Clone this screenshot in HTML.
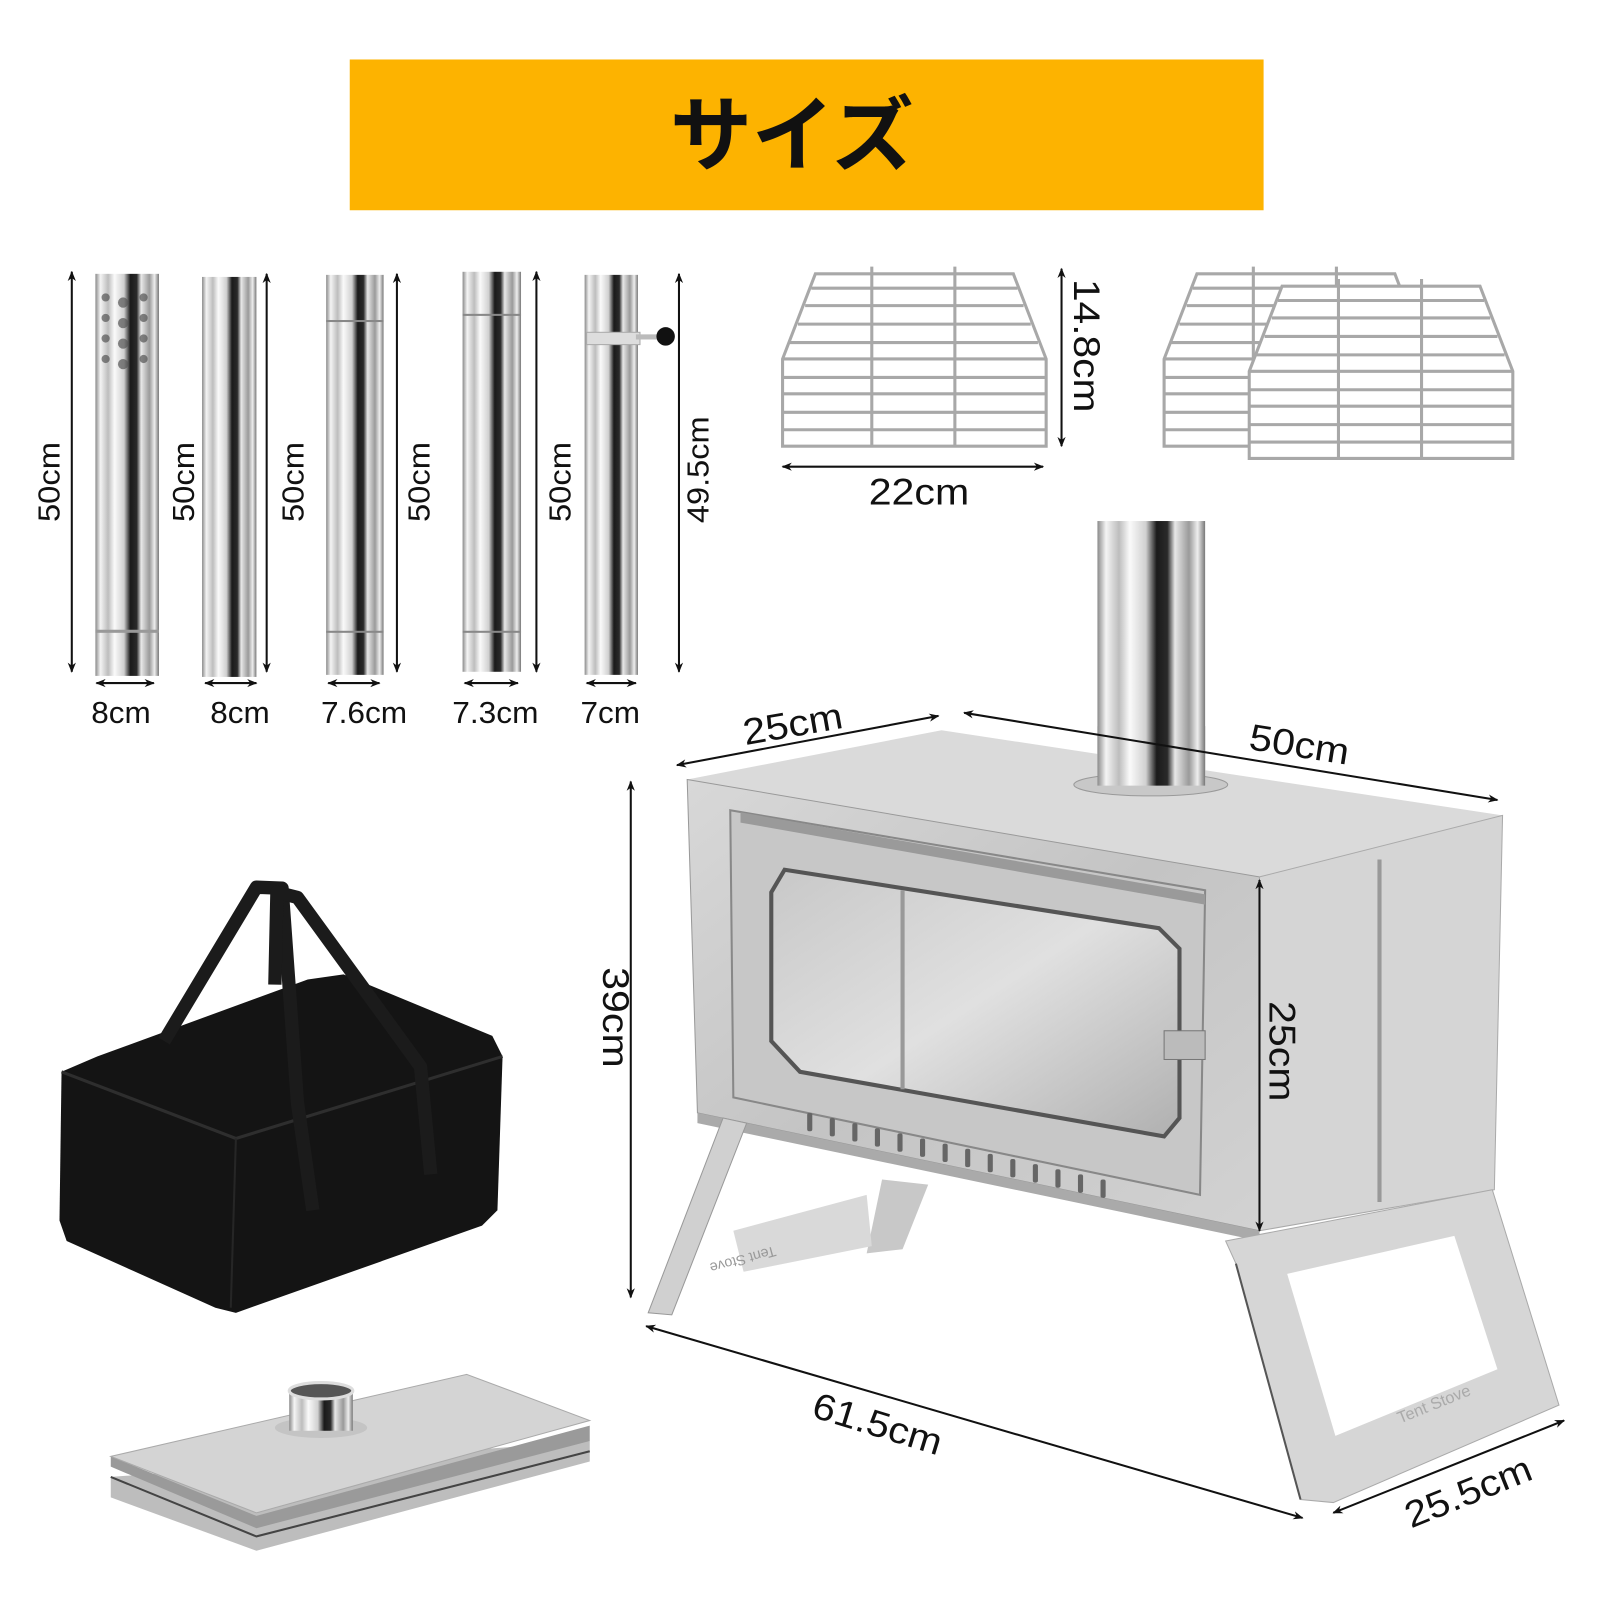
<!DOCTYPE html>
<html><head><meta charset="utf-8"><style>
html,body{margin:0;padding:0;background:#fff;}
svg{display:block;}
text{font-family:"Liberation Sans","DejaVu Sans",sans-serif;fill:#111;}
</style></head><body>
<svg width="1600" height="1600" viewBox="0 0 1560 1560" xmlns="http://www.w3.org/2000/svg">
<defs>
<linearGradient id="pipe" x1="0" x2="1" y1="0" y2="0">
<stop offset="0" stop-color="#8a8a8a"/><stop offset="0.08" stop-color="#f4f4f4"/><stop offset="0.2" stop-color="#bdbdbd"/><stop offset="0.3" stop-color="#fafafa"/><stop offset="0.45" stop-color="#d0d0d0"/><stop offset="0.55" stop-color="#1a1a1a"/><stop offset="0.65" stop-color="#2a2a2a"/><stop offset="0.72" stop-color="#e8e8e8"/><stop offset="0.85" stop-color="#9a9a9a"/><stop offset="0.93" stop-color="#eeeeee"/><stop offset="1" stop-color="#777"/>
</linearGradient>
<linearGradient id="metal" x1="0" x2="1" y1="0" y2="1">
<stop offset="0" stop-color="#d8d8d8"/><stop offset="0.5" stop-color="#c4c4c4"/><stop offset="1" stop-color="#d2d2d2"/>
</linearGradient>
<linearGradient id="glass" x1="0" x2="1" y1="0" y2="1">
<stop offset="0" stop-color="#c8c8c8"/><stop offset="0.5" stop-color="#e0e0e0"/><stop offset="1" stop-color="#b0b0b0"/>
</linearGradient>
<marker id="ah" markerWidth="10" markerHeight="10" refX="9" refY="5" orient="auto-start-reverse" markerUnits="userSpaceOnUse">
<path d="M0,1 L10,5 L0,9 L3,5 Z" fill="#111"/>
</marker>
</defs>

<rect x="341" y="58" width="891" height="147" fill="#FDB300"/>
<text x="772" y="160" font-size="80" font-weight="bold" text-anchor="middle" style="font-family:'Noto Sans CJK JP',sans-serif">サイズ</text>

<g>
<rect x="93" y="267" width="62" height="392" fill="url(#pipe)"/>
<g fill="#555" opacity="0.7">
<circle cx="103" cy="290" r="4"/><circle cx="120" cy="295" r="5"/><circle cx="140" cy="290" r="4"/>
<circle cx="103" cy="310" r="4"/><circle cx="120" cy="315" r="5"/><circle cx="140" cy="310" r="4"/>
<circle cx="103" cy="330" r="4"/><circle cx="120" cy="335" r="5"/><circle cx="140" cy="330" r="4"/>
<circle cx="103" cy="350" r="4"/><circle cx="120" cy="355" r="5"/><circle cx="140" cy="350" r="4"/>
</g>
<rect x="93" y="614" width="62" height="3" fill="#999"/>
<rect x="197" y="270" width="53" height="390" fill="url(#pipe)"/>
<rect x="318" y="268" width="56" height="390" fill="url(#pipe)"/>
<rect x="318" y="312" width="56" height="2" fill="#888"/>
<rect x="318" y="615" width="56" height="2" fill="#888"/>
<rect x="451" y="265" width="57" height="390" fill="url(#pipe)"/>
<rect x="451" y="306" width="57" height="2" fill="#888"/>
<rect x="451" y="615" width="57" height="2" fill="#888"/>
<rect x="570" y="268" width="52" height="390" fill="url(#pipe)"/>
<rect x="572" y="324" width="52" height="12" fill="#ddd" stroke="#aaa"/>
<rect x="620" y="326" width="22" height="5" fill="#bbb"/>
<circle cx="649" cy="328" r="9" fill="#111"/>
</g>
<g stroke="#111" stroke-width="2" fill="none" marker-start="url(#ah)" marker-end="url(#ah)">
<line x1="70" y1="265" x2="70" y2="655"/>
<line x1="260" y1="267" x2="260" y2="655"/>
<line x1="387" y1="267" x2="387" y2="655"/>
<line x1="523" y1="265" x2="523" y2="655"/>
<line x1="662" y1="267" x2="662" y2="655"/>
<line x1="94" y1="666" x2="150" y2="666"/>
<line x1="200" y1="666" x2="250" y2="666"/>
<line x1="320" y1="666" x2="370" y2="666"/>
<line x1="453" y1="666" x2="505" y2="666"/>
<line x1="572" y1="666" x2="620" y2="666"/>
</g>
<g font-size="30">
<text transform="translate(58,470) rotate(-90)" text-anchor="middle" textLength="78" lengthAdjust="spacingAndGlyphs">50cm</text>
<text transform="translate(189,470) rotate(-90)" text-anchor="middle" textLength="78" lengthAdjust="spacingAndGlyphs">50cm</text>
<text transform="translate(296,470) rotate(-90)" text-anchor="middle" textLength="78" lengthAdjust="spacingAndGlyphs">50cm</text>
<text transform="translate(419,470) rotate(-90)" text-anchor="middle" textLength="78" lengthAdjust="spacingAndGlyphs">50cm</text>
<text transform="translate(556,470) rotate(-90)" text-anchor="middle" textLength="78" lengthAdjust="spacingAndGlyphs">50cm</text>
<text transform="translate(691,458) rotate(-90)" text-anchor="middle" textLength="104" lengthAdjust="spacingAndGlyphs">49.5cm</text>
<text x="118" y="705" text-anchor="middle" textLength="58" lengthAdjust="spacingAndGlyphs">8cm</text>
<text x="234" y="705" text-anchor="middle" textLength="58" lengthAdjust="spacingAndGlyphs">8cm</text>
<text x="355" y="705" text-anchor="middle" textLength="84" lengthAdjust="spacingAndGlyphs">7.6cm</text>
<text x="483" y="705" text-anchor="middle" textLength="84" lengthAdjust="spacingAndGlyphs">7.3cm</text>
<text x="595" y="705" text-anchor="middle" textLength="58" lengthAdjust="spacingAndGlyphs">7cm</text>
</g>

<g fill="none" stroke="#a8a8a8" stroke-width="3">
<g>
<path d="M795,267 L988,267 L1020,350 L1020,435 L763,435 L763,350 Z"/>
<path d="M791,281H992 M785,298H998 M778,316H1005 M770,334H1012 M763,350H1020 M763,368H1020 M763,384H1020 M763,402H1020 M763,419H1020"/>
<path d="M850,260V435 M931,260V435"/>
</g>
<g transform="translate(372,0)">
<path d="M795,267 L988,267 L1020,350 L1020,435 L763,435 L763,350 Z"/>
<path d="M791,281H992 M785,298H998 M778,316H1005 M770,334H1012 M763,350H1020 M763,368H1020 M763,384H1020 M763,402H1020 M763,419H1020"/>
<path d="M850,260V435 M931,260V435"/>
</g>
<g transform="translate(455,12)">
<path d="M795,267 L988,267 L1020,350 L1020,435 L763,435 L763,350 Z" fill="#fff"/>
<path d="M791,281H992 M785,298H998 M778,316H1005 M770,334H1012 M763,350H1020 M763,368H1020 M763,384H1020 M763,402H1020 M763,419H1020"/>
<path d="M850,260V435 M931,260V435"/>
</g>
</g>
<g stroke="#111" stroke-width="2" fill="none" marker-start="url(#ah)" marker-end="url(#ah)">
<line x1="1035" y1="262" x2="1035" y2="435"/>
<line x1="763" y1="455" x2="1017" y2="455"/>
</g>
<text transform="translate(1047,337) rotate(90)" font-size="36" text-anchor="middle" textLength="130" lengthAdjust="spacingAndGlyphs">14.8cm</text>
<text x="896" y="492" font-size="36" text-anchor="middle" textLength="98" lengthAdjust="spacingAndGlyphs">22cm</text>

<g>
<path d="M60,1045 L95,1030 L300,955 L335,950 L480,1010 L490,1030 L485,1180 L470,1195 L230,1280 L210,1275 L65,1210 L58,1190 Z" fill="#141414"/>
<path d="M60,1045 L230,1110 L490,1030" fill="none" stroke="#2e2e2e" stroke-width="3"/>
<path d="M230,1110 L225,1275" stroke="#262626" stroke-width="2"/>
<g fill="none" stroke="#1b1b1b" stroke-width="13" stroke-linejoin="round">
<path d="M160,1015 L250,865 L275,866 L290,1075 L305,1180"/>
<path d="M268,960 L270,870 L290,875 L410,1040 L420,1145"/>
</g>
</g>

<g>
<path d="M108,1440 L108,1460 L250,1512 L575,1425 L575,1405 Z" fill="#bdbdbd"/>
<path d="M108,1430 L250,1490 L575,1405 L575,1390 L250,1478 L108,1420 Z" fill="#9a9a9a"/>
<path d="M108,1420 L455,1340 L575,1385 L250,1475 Z" fill="#d4d4d4" stroke="#aaa"/>
<path d="M108,1440 L250,1498 L575,1415" fill="none" stroke="#444" stroke-width="2"/>
<ellipse cx="313" cy="1392" rx="45" ry="10" fill="#c4c4c4"/>
<rect x="282" y="1355" width="62" height="40" fill="url(#pipe)"/>
<ellipse cx="313" cy="1356" rx="31" ry="8" fill="#555" stroke="#ddd" stroke-width="3"/>
</g>

<g>
<rect x="1070" y="508" width="105" height="262" fill="url(#pipe)"/>
<path d="M918,712 L1465,795 L1228,855 L670,760 Z" fill="#dadada"/>
<ellipse cx="1122" cy="765" rx="75" ry="11" fill="#c8c8c8" stroke="#999"/>
<rect x="1070" y="708" width="105" height="58" fill="url(#pipe)"/>
<path d="M670,760 L1228,855 L1228,1200 L680,1085 Z" fill="url(#metal)" stroke="#999"/>
<path d="M1228,855 L1465,795 L1457,1160 L1228,1200 Z" fill="#d5d5d5" stroke="#aaa"/>
<line x1="1345" y1="838" x2="1345" y2="1172" stroke="#999" stroke-width="4"/>
<path d="M712,790 L1175,868 L1170,1165 L715,1070 Z" fill="#c7c7c7" stroke="#888" stroke-width="2"/>
<path d="M722,792 L1175,872 L1175,882 L722,802 Z" fill="#9a9a9a"/>
<path d="M765,848 L1130,905 L1150,925 L1150,1090 L1135,1108 L780,1045 L752,1015 L752,870 Z" fill="url(#glass)" stroke="#555" stroke-width="4"/>
<line x1="880" y1="868" x2="880" y2="1062" stroke="#999" stroke-width="4"/>
<g fill="#666">
<rect x="787" y="1085" width="5" height="18" rx="2"/><rect x="809" y="1090" width="5" height="18" rx="2"/><rect x="831" y="1095" width="5" height="18" rx="2"/><rect x="853" y="1100" width="5" height="18" rx="2"/><rect x="875" y="1105" width="5" height="18" rx="2"/><rect x="897" y="1110" width="5" height="18" rx="2"/><rect x="919" y="1115" width="5" height="18" rx="2"/><rect x="941" y="1120" width="5" height="18" rx="2"/><rect x="963" y="1125" width="5" height="18" rx="2"/><rect x="985" y="1130" width="5" height="18" rx="2"/><rect x="1007" y="1135" width="5" height="18" rx="2"/><rect x="1029" y="1140" width="5" height="18" rx="2"/><rect x="1051" y="1145" width="5" height="18" rx="2"/><rect x="1073" y="1150" width="5" height="18" rx="2"/>
</g>
<rect x="1135" y="1005" width="40" height="28" fill="#bbb" stroke="#777"/>
<path d="M680,1085 L1228,1200 L1228,1210 L680,1095 Z" fill="#aaa"/>
<path d="M705,1090 L728,1095 L655,1282 L632,1280 Z" fill="#d0d0d0" stroke="#999"/>
<path d="M860,1150 L905,1155 L880,1218 L845,1222 Z" fill="#c8c8c8"/>
<path d="M715,1200 L845,1165 L850,1215 L725,1240 Z" fill="#d9d9d9"/>
<text transform="translate(755,1215) rotate(165)" font-size="14" style="fill:#999">Tent Stove</text>
<path d="M1195,1210 L1455,1160 L1520,1370 L1300,1465 L1268,1462 L1205,1232 Z" fill="#d6d6d6" stroke="#aaa"/>
<path d="M1255,1242 L1418,1205 L1460,1335 L1302,1400 Z" fill="#fff"/>
<line x1="1205" y1="1232" x2="1268" y2="1462" stroke="#555" stroke-width="2"/>
<text transform="translate(1365,1388) rotate(-22)" font-size="16" style="fill:#aaa">Tent Stove</text>
</g>
<g stroke="#111" stroke-width="2" fill="none" marker-start="url(#ah)" marker-end="url(#ah)">
<line x1="660" y1="746" x2="915" y2="698"/>
<line x1="940" y1="695" x2="1460" y2="780"/>
<line x1="615" y1="762" x2="615" y2="1265"/>
<line x1="1228" y1="858" x2="1228" y2="1200"/>
<line x1="630" y1="1293" x2="1270" y2="1480"/>
<line x1="1300" y1="1475" x2="1525" y2="1385"/>
</g>
<g font-size="36">
<text transform="translate(775,718) rotate(-10)" text-anchor="middle" textLength="98" lengthAdjust="spacingAndGlyphs">25cm</text>
<text transform="translate(1265,738) rotate(9)" text-anchor="middle" textLength="98" lengthAdjust="spacingAndGlyphs">50cm</text>
<text transform="translate(588,992) rotate(90)" text-anchor="middle" textLength="98" lengthAdjust="spacingAndGlyphs">39cm</text>
<text transform="translate(1238,1025) rotate(90)" text-anchor="middle" textLength="98" lengthAdjust="spacingAndGlyphs">25cm</text>
<text transform="translate(852,1400) rotate(17)" text-anchor="middle" textLength="130" lengthAdjust="spacingAndGlyphs">61.5cm</text>
<text transform="translate(1436,1466) rotate(-22)" text-anchor="middle" textLength="130" lengthAdjust="spacingAndGlyphs">25.5cm</text>
</g>
</svg>
</body></html>
